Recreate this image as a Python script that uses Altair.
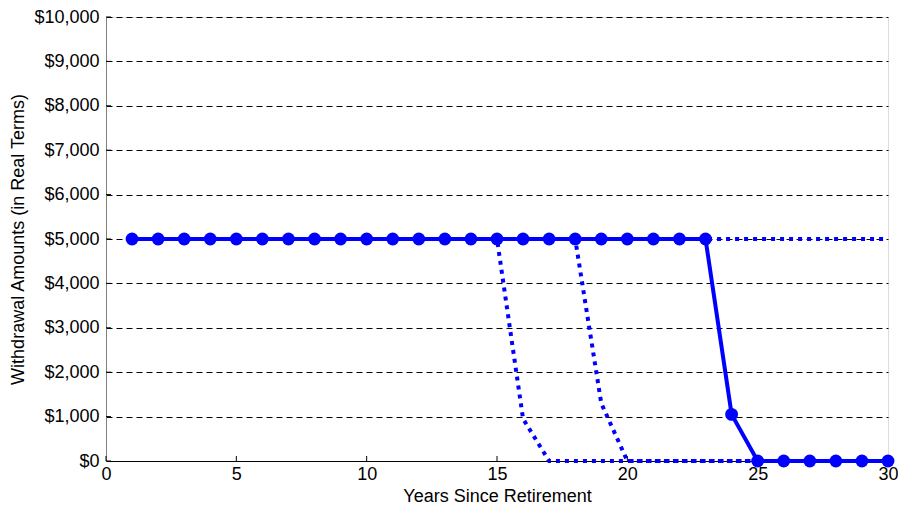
import altair as alt
import pandas as pd

# Data
years = list(range(1, 31))
solid_values = [5000, 5000, 5000, 5000, 5000, 5000, 5000, 5000, 5000, 5000,
                5000, 5000, 5000, 5000, 5000, 5000, 5000, 5000, 5000, 5000,
                5000, 5000, 5000, 1050, 0, 0, 0, 0, 0, 0]
dotted_a = [5000, 5000, 5000, 5000, 5000, 5000, 5000, 5000, 5000, 5000,
            5000, 5000, 5000, 5000, 5000, 950, 0, 0, 0, 0,
            0, 0, 0, 0, 0, 0, 0, 0, 0, 0]
dotted_b = [5000, 5000, 5000, 5000, 5000, 5000, 5000, 5000, 5000, 5000,
            5000, 5000, 5000, 5000, 5000, 5000, 5000, 5000, 1300, 0,
            0, 0, 0, 0, 0, 0, 0, 0, 0, 0]
dotted_c = [5000, 5000, 5000, 5000, 5000, 5000, 5000, 5000, 5000, 5000,
            5000, 5000, 5000, 5000, 5000, 5000, 5000, 5000, 5000, 5000,
            5000, 5000, 5000, 5000, 5000, 5000, 5000, 5000, 5000, 5000]
x_ticks = [0, 5, 10, 15, 20, 25, 30]
y_ticks = [0, 1000, 2000, 3000, 4000, 5000, 6000, 7000, 8000, 9000, 10000]

FONT = "Liberation Sans"
FS = 18
BLUE = "#0000FF"

solid_df = pd.DataFrame({"year": years, "amount": solid_values})
dotted_df = pd.concat([
    pd.DataFrame({"year": years, "amount": dotted_a, "series": "A"}),
    pd.DataFrame({"year": years, "amount": dotted_b, "series": "B"}),
    pd.DataFrame({"year": years, "amount": dotted_c, "series": "C"}),
])
xt_df = pd.DataFrame({"t": x_ticks})
yt_df = pd.DataFrame({"v": y_ticks})

xscale = alt.Scale(domain=[0, 30], nice=False, zero=False)
yscale = alt.Scale(domain=[0, 10000], nice=False)

x_axis = alt.Axis(values=x_ticks, title="Years Since Retirement", grid=False,
                  tickSize=0, labelPadding=4, labelFlush=False,
                  domainColor="#000000",
                  labelFont=FONT, labelFontSize=FS, labelColor="#000000",
                  titleFont=FONT, titleFontSize=FS, titleFontWeight="normal",
                  titleColor="#000000", titlePadding=4)
y_axis = alt.Axis(values=y_ticks, format="$,.0f",
                  title="Withdrawal Amounts (in Real Terms)",
                  grid=True, gridDash=[6, 4], gridColor="#000000", gridWidth=1,
                  gridOpacity=1, tickSize=0, labelPadding=7, labelFlush=False,
                  domainColor="#808080",
                  labelFont=FONT, labelFontSize=FS, labelColor="#000000",
                  titleFont=FONT, titleFontSize=FS, titleFontWeight="normal",
                  titleColor="#000000", titlePadding=6)

base_grid = alt.Chart(yt_df).mark_rule(opacity=0).encode(
    x=alt.value(0),
    y=alt.Y("v:Q", scale=yscale, axis=y_axis),
)

dotted = alt.Chart(dotted_df).mark_line(
    color=BLUE, strokeWidth=4, strokeDash=[4, 5], strokeCap="butt"
).encode(
    x=alt.X("year:Q", scale=xscale, axis=x_axis),
    y=alt.Y("amount:Q", scale=yscale),
    detail="series:N",
)

solid_line = alt.Chart(solid_df).mark_line(color=BLUE, strokeWidth=4).encode(
    x=alt.X("year:Q", scale=xscale),
    y=alt.Y("amount:Q", scale=yscale),
)
solid_pts = alt.Chart(solid_df).mark_circle(color=BLUE, size=165, opacity=1).encode(
    x=alt.X("year:Q", scale=xscale),
    y=alt.Y("amount:Q", scale=yscale),
)

x_tick_marks = alt.Chart(xt_df).mark_rule(color="#000000", strokeWidth=1).encode(
    x=alt.X("t:Q", scale=xscale),
    y=alt.value(444),
    y2=alt.value(439),
)
y_tick_marks = alt.Chart(yt_df).mark_rule(color="#000000", strokeWidth=1).encode(
    y=alt.Y("v:Q", scale=yscale),
    x=alt.value(0),
    x2=alt.value(5),
)

chart = alt.layer(
    base_grid, x_tick_marks, y_tick_marks, dotted, solid_line, solid_pts
).properties(
    width=782,
    height=444,
    autosize=alt.AutoSizeParams(type="none"),
    padding={"left": 98, "top": 9, "right": 10, "bottom": 45},
).configure_view(
    stroke=None
).configure(background="white")

chart.save("out.html", embed_options={"renderer": "svg", "actions": False})
